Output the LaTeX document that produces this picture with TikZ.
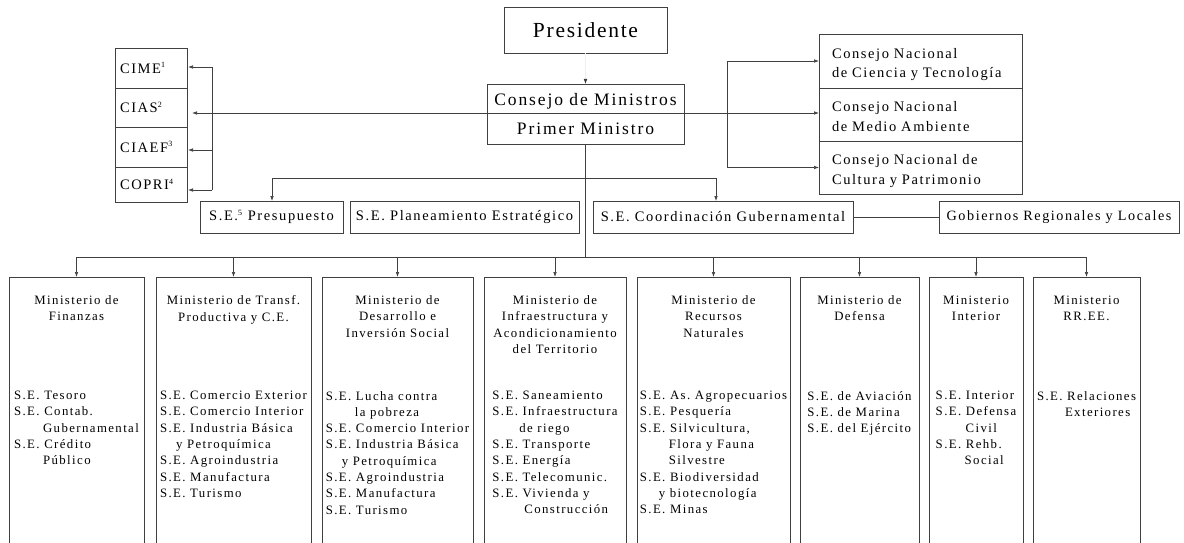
\documentclass[tikz,border=0pt]{standalone}
\usepackage{fontspec}
\setmainfont{Liberation Serif}
\newfontfamily\orgfont[LetterSpace=11]{Liberation Serif}
\newfontfamily\presfont[LetterSpace=8]{Liberation Serif}
\usetikzlibrary{arrows.meta,
                calc, %for relative coord calculations
                positioning}
\newcommand{\nota}[1]{\textsuperscript{\fontsize{8}{8}\selectfont #1}}
\frenchspacing

\begin{document}
\begin{tikzpicture}[x=1pt,y=-1pt,
                    box/.style={draw=black!75, line width=0.8pt, inner sep=0, outer sep=0,
                                anchor=north west},
                    big/.style={font=\presfont\fontsize{21.5}{24}\selectfont},
                    mid/.style={font=\orgfont\fontsize{14.5}{19.5}\selectfont},
                    small/.style={font=\orgfont\fontsize{12.8}{16.3}\selectfont},
                    sidebox/.style={box, mid, minimum width=72pt, text width=62pt,
                                    inner xsep=5pt, align=left},
                    consbox/.style={box, mid, minimum width=203pt, text width=177pt,
                                    inner xsep=13pt, align=left, text depth=16pt},
                    sebox/.style={box, mid, minimum height=32pt},
                    mintitle/.style={small, anchor=north, inner sep=0, align=center},
                    minlist/.style={small, anchor=north, inner sep=0, align=left},
                    arrow/.style={-{Latex[length=5pt,width=3.6pt]}, line width=0.7pt, black!75},
                    line/.style={line width=0.7pt, black!75}
                    ]
    \clip (0,0) rectangle (1184,543);

    % top
    \node[box, big, minimum width=163pt, minimum height=46pt] (pres) at (504,7) {Presidente};
    \node[box, font=\orgfont\fontsize{17.5}{29}\selectfont, align=center,
          minimum width=197pt, minimum height=60pt] (cons) at (487,84)
          {Consejo de Ministros\\Primer Ministro};

    % comisiones
    \node[sidebox, minimum height=40pt] (cime)  at (115,48)  {CIME\nota{1}};
    \node[sidebox, minimum height=39pt] (cias)  at (115,88)  {CIAS\nota{2}};
    \node[sidebox, minimum height=40pt] (ciaef) at (115,127) {CIAEF\nota{3}};
    \node[sidebox, minimum height=35pt] (copri) at (115,167) {COPRI\nota{4}};

    % consejos nacionales
    \node[consbox, minimum height=54pt] (cnct) at (819,34)  {Consejo Nacional\\de Ciencia y Tecnología};
    \node[consbox, minimum height=53pt] (cnma) at (819,88)  {Consejo Nacional\\de Medio Ambiente};
    \node[consbox, minimum height=53pt] (cncp) at (819,141) {Consejo Nacional de\\Cultura y Patrimonio};

    % secretarias
    \node[sebox, minimum width=143pt] (presup) at (200,201) {S.E.\nota{5} Presupuesto};
    \node[sebox, minimum width=229pt] (plan)   at (350,201) {S.E. Planeamiento Estratégico};
    \node[sebox, minimum width=260pt] (coord)  at (593,201) {S.E. Coordinación Gubernamental};
    \node[sebox, minimum width=240pt, font=\orgfont\fontsize{14.2}{18}\selectfont] (gob) at (939,201) {Gobiernos Regionales y Locales};

    % ministerios
    \foreach \n/\xa/\xb in {1/9/144, 2/156/311, 3/322/473, 4/484/626,
                            5/637/790, 6/800/919, 7/929/1023, 8/1033/1140} {
        \pgfmathsetmacro\w{\xb-\xa}
        \node[box, minimum width=\w pt, minimum height=269pt] (m\n) at (\xa,277) {};
    }

    \node[mintitle] (t1) at ($(m1.north)+(0,18.5)$) {Ministerio de\\Finanzas};
    \node[mintitle] (t2) at ($(m2.north)+(0,18.5)$) {Ministerio de Transf.\\Productiva y C.E.};
    \node[mintitle] (t3) at ($(m3.north)+(0,18.5)$) {Ministerio de\\Desarrollo e\\Inversión Social};
    \node[mintitle] (t4) at ($(m4.north)+(0,18.5)$) {Ministerio de\\Infraestructura y\\Acondicionamiento\\del Territorio};
    \node[mintitle] (t5) at ($(m5.north)+(0,18.5)$) {Ministerio de\\Recursos\\Naturales};
    \node[mintitle] (t6) at ($(m6.north)+(0,18.5)$) {Ministerio de\\Defensa};
    \node[mintitle] (t7) at ($(m7.north)+(0,18.5)$) {Ministerio\\Interior};
    \node[mintitle] (t8) at ($(m8.north)+(0,18.5)$) {Ministerio\\RR.EE.};

    \node[minlist] (l1) at ($(m1.north)+(0,114)$)
        {S.E. Tesoro\\S.E. Contab.\\\hspace*{29pt}Gubernamental\\S.E. Crédito\\\hspace*{29pt}Público};
    \node[minlist] (l2) at ($(m2.north)+(0,114)$)
        {S.E. Comercio Exterior\\S.E. Comercio Interior\\S.E. Industria Básica\\\hspace*{16pt}y Petroquímica\\
         S.E. Agroindustria\\S.E. Manufactura\\S.E. Turismo};
    \node[minlist] (l3) at ($(m3.north)+(0,114)$)
        {S.E. Lucha contra\\\hspace*{29pt}la pobreza\\S.E. Comercio Interior\\S.E. Industria Básica\\\hspace*{16pt}y Petroquímica\\
         S.E. Agroindustria\\S.E. Manufactura\\S.E. Turismo};
    \node[minlist] (l4) at ($(m4.north)+(0,114)$)
        {S.E. Saneamiento\\S.E. Infraestructura\\\hspace*{27pt}de riego\\S.E. Transporte\\S.E. Energía\\
         S.E. Telecomunic.\\S.E. Vivienda y\\\hspace*{32pt}Construcción};
    \node[minlist] (l5) at ($(m5.north)+(0,114)$)
        {S.E. As. Agropecuarios\\S.E. Pesquería\\S.E. Silvicultura,\\\hspace*{29pt}Flora y Fauna\\\hspace*{29pt}Silvestre\\
         S.E. Biodiversidad\\\hspace*{19pt}y biotecnología\\S.E. Minas};
    \node[minlist] (l6) at ($(m6.north)+(0,114)$)
        {S.E. de Aviación\\S.E. de Marina\\S.E. del Ejército};
    \node[minlist] (l7) at ($(m7.north)+(0,114)$)
        {S.E. Interior\\S.E. Defensa\\\hspace*{30pt}Civil\\S.E. Rehb.\\\hspace*{29pt}Social};
    \node[minlist] (l8) at ($(m8.north)+(0,114)$)
        {S.E. Relaciones\\\hspace*{28pt}Exteriores};

    % connectors
    \draw[line, black!6, -{Latex[length=5pt,width=3.6pt,color=black!80]}] (pres.south) -- (cons.north);

    \coordinate (lbus) at (212,113);
    \coordinate (rbus) at (727,113);
    \coordinate (lt) at (212,67);
    \coordinate (lm) at (212,150);
    \coordinate (lb) at (212,190);
    \coordinate (rt) at (727,61);
    \coordinate (rb) at (727,167.5);
    \draw[arrow, shorten >=5pt] (rbus) -- (lbus -| cias.east);
    \draw[line] (lt) -- (lb);
    \draw[arrow, shorten >=1pt] (lt) -- (lt -| cime.east);
    \draw[arrow, shorten >=1pt] (lm) -- (lm -| ciaef.east);
    \draw[arrow, shorten >=1pt] (lb) -- (lb -| copri.east);

    \draw[line] (rt) -- (rb);
    \draw[arrow] (rt) -- (rt -| cnct.west);
    \draw[arrow] (rbus) -- (rbus -| cnma.west);
    \draw[arrow] (rb) -- (rb -| cncp.west);

    \coordinate (mbus) at (586,257);
    \coordinate (sl) at (272,178);
    \coordinate (sr) at (716,178);
    \draw[line] (cons.south) -- (cons.south |- mbus);
    \draw[line] (sl) -- (sr);
    \draw[arrow] (sl) -- (sl |- presup.north);
    \draw[arrow] (sr) -- (sr |- coord.north);
    \draw[line] (coord.east) -- (gob.west);

    \draw[line] (m1.north |- mbus) -- (m8.north |- mbus);
    \foreach \n in {1,...,8}
        \draw[arrow] (m\n.north |- mbus) -- (m\n.north);
\end{tikzpicture}
\end{document}
